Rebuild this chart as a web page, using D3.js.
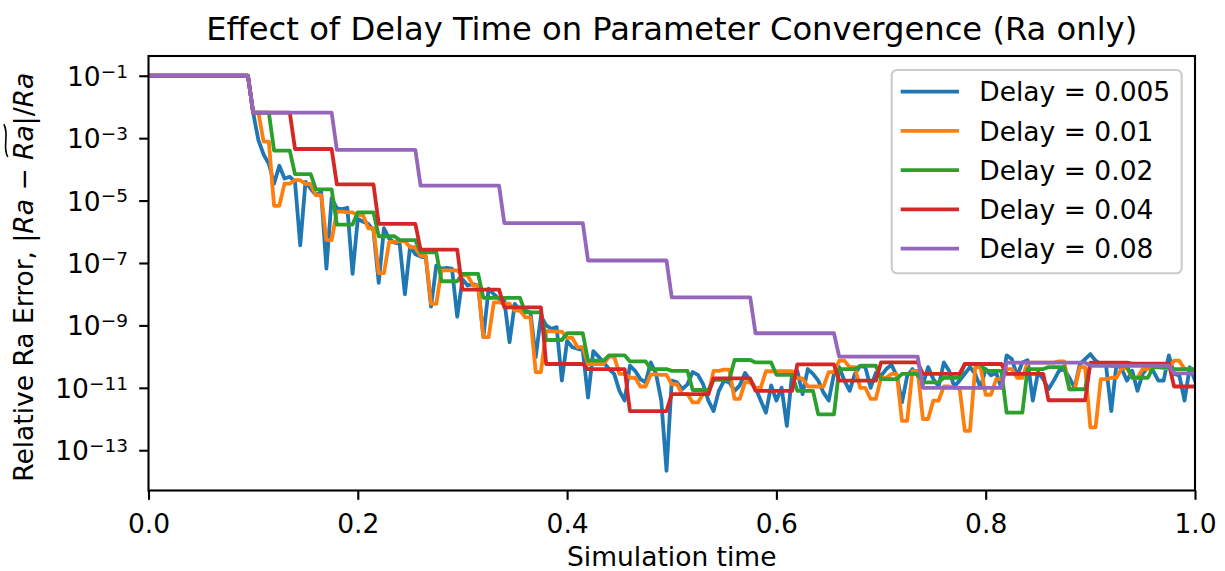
<!DOCTYPE html>
<html>
<head>
<meta charset="utf-8">
<script src="https://cdn.jsdelivr.net/npm/d3@7"></script>
<style>
  html, body { margin: 0; padding: 0; background: #ffffff; }
  svg { display: block; font-family: "DejaVu Sans", sans-serif; }
</style>
</head>
<body>
<svg id="chart" width="1225" height="571"></svg>
<script>
// Relative Ra error recorded every 0.005 time units. Until the first estimate
// at t = 0.1 every run reports the error of the initial guess; afterwards each
// run holds its estimate until the next update, one update per delay interval.
const sampleStep = 0.005;
const firstUpdate = 0.1;
const endTime = 1.0;
const initialError = 0.1;

const delays = [0.005, 0.01, 0.02, 0.04, 0.08];
const seriesColors = ["#1f77b4", "#ff7f0e", "#2ca02c", "#d62728", "#9467bd"];

// one value per update, first update at t = 0.1
const errDelay0005 = [
  6.6e-3, 8.7e-4, 3e-4, 1.5e-4, 3.5e-5, 1.3e-4, 5.1e-5, 5.8e-5, 4e-5, 3.7e-7,
  4e-5, 2.4e-5, 1.5e-5, 1.9e-5, 6.6e-8, 1.2e-5, 5.6e-6, 5.3e-6, 5.9e-6, 4.5e-8,
  2.6e-6, 2.1e-6, 1.8e-6, 1.1e-6, 2.3e-8, 1.3e-6, 6e-7, 4.5e-7, 4.2e-7, 1e-8,
  3.4e-7, 1.9e-7, 1.6e-7, 1.5e-7, 4e-9, 8.3e-8, 6.6e-8, 7e-8, 6.6e-8, 1.9e-9,
  3e-8, 1.9e-8, 2.1e-8, 1.9e-8, 4.2e-10, 1.5e-8, 1e-8, 7.1e-9, 6.3e-9, 2.9e-10,
  4.9e-9, 3e-9, 3e-9, 2.6e-9, 9.6e-11, 2e-9, 1e-9, 7.8e-10, 8.8e-10, 1.7e-11,
  3.2e-10, 2e-10, 1.8e-10, 1.6e-10, 4.9e-12, 1.5e-10, 1e-10, 6.5e-11, 4e-11, 2.8e-11,
  8e-12, 3.9e-12, 5.1e-11, 3.5e-11, 1.9e-11, 1.5e-11, 6.5e-11, 2.8e-11, 3.9e-12, 2.2e-14,
  1.7e-11, 1.5e-11, 9e-12, 1.3e-11, 3.2e-11, 2.6e-11, 1.3e-11, 3.9e-12, 1.8e-12, 8e-12,
  1.7e-11, 1.5e-11, 8e-12, 1.2e-11, 3e-11, 1.7e-11, 1e-11, 3.9e-12, 1.6e-12, 1.2e-11,
  3.9e-12, 1e-11, 6e-13, 2.8e-11, 3.5e-11, 6.3e-12, 4e-11, 2.8e-11, 1.7e-11, 7e-12,
  3.9e-12, 2.8e-11, 4.6e-11, 1.7e-11, 8e-12, 2.8e-11, 5e-11, 4.6e-11, 1e-11, 3e-11,
  2.4e-11, 4e-11, 5.5e-11, 2.4e-11, 3.4e-12, 2.4e-11, 4e-11, 2.4e-11, 1.3e-11, 4.6e-11,
  1.9e-11, 1.1e-11, 6.5e-11, 3.5e-11, 1.1e-11, 1.7e-11, 2.8e-11, 4.6e-11, 2.8e-11, 1e-11,
  4e-11, 2.5e-11, 3e-11, 1e-11, 1.1e-10, 8.3e-11, 2.4e-11, 6.5e-11, 7.7e-11, 3.9e-12,
  3.2e-11, 1.9e-11, 9e-12, 1.7e-11, 3.5e-11, 4e-11, 2.1e-11, 1e-11, 5.8e-11, 8.3e-11,
  1.2e-10, 7.4e-11, 5.8e-11, 5.1e-11, 1.8e-12, 5.8e-11, 4e-11, 1.7e-11, 3.5e-11, 8e-12,
  2.8e-11, 4.6e-11, 3.5e-11, 1.7e-11, 1.7e-11, 1.1e-10, 2.8e-11, 2.5e-11, 3.9e-12, 4.6e-11,
  1.7e-11
];
const errDelay001 = [
  6.6e-3, 7.8e-4, 6.8e-6, 3.5e-5, 4.5e-5, 3.4e-5, 1.5e-5, 5.4e-7, 4.4e-6, 4.2e-6,
  3.4e-6, 1.3e-6, 4.7e-8, 4.7e-7, 5e-7, 3.2e-7, 1.7e-7, 4.9e-9, 5.8e-8, 5.8e-8,
  4e-8, 1.9e-8, 4.2e-10, 5.5e-9, 5e-9, 3e-9, 1.8e-9, 3.2e-11, 6.5e-10, 6.3e-10,
  4e-10, 2e-10, 5.8e-11, 5.8e-11, 1e-10, 2.8e-11, 2.1e-11, 1.1e-11, 2.7e-11, 2.6e-11,
  1.3e-11, 6.3e-12, 3.4e-12, 6.3e-12, 3.5e-11, 3.8e-11, 4.4e-12, 1.5e-11, 1e-11, 3.4e-11,
  3.4e-11, 3.4e-11, 2e-11, 1.1e-11, 1.1e-11, 3.2e-11, 7.4e-11, 4.6e-11, 1e-11, 4.4e-12,
  2.1e-11, 2.8e-11, 8.7e-13, 3.5e-11, 1e-12, 3.9e-12, 1.1e-11, 1e-11, 4.2e-13, 4.6e-11,
  6e-12, 1.9e-11, 4e-11, 2.1e-11, 6.4e-11, 6.4e-11, 6.4e-11, 7e-11, 9e-12, 4.6e-11,
  5.4e-13, 1.9e-11, 2.1e-11, 4.3e-11, 2.1e-11, 4e-11, 4.5e-11, 4.3e-11, 7.4e-11, 4e-11
];
const errDelay002 = [
  6.6e-3, 4e-4, 7e-5, 2.3e-5, 1.7e-6, 4.2e-6, 7.2e-7, 5.4e-7, 2.2e-7, 2.6e-8,
  4.5e-8, 7.6e-9, 7.6e-9, 2.6e-9, 3.4e-10, 5.6e-10, 7.4e-11, 1.1e-10, 7e-11, 4e-11,
  3.5e-11, 8.5e-12, 1.8e-11, 7.8e-11, 6.5e-11, 2.6e-11, 8e-12, 1.4e-12, 4e-11, 5.1e-11,
  1.9e-11, 2.8e-11, 1.5e-11, 2.1e-11, 5.8e-11, 3.5e-11, 1.6e-12, 4e-11, 4.6e-11, 9e-12,
  5.8e-11, 5.1e-11, 2.1e-11, 4.6e-11, 4e-11
];
const errDelay004 = [
  6.6e-3, 4.5e-4, 3.3e-5, 1.8e-6, 2.7e-7, 1.4e-8, 3.8e-9, 5.8e-11, 4e-11, 1.8e-12,
  6.3e-12, 2e-11, 8e-12, 5.6e-11, 1.7e-11, 6.5e-11, 2.8e-11, 5.8e-11, 2.8e-11, 4e-12,
  6.4e-11, 6e-11, 1.1e-11
];
const errDelay008 = [
  6.6e-3, 4.2e-4, 3e-5, 1.9e-6, 1.2e-7, 7.9e-9, 5.6e-10, 1e-10, 1e-11, 6.4e-11,
  5.1e-11, 2.9e-11
];
const seriesValues = [errDelay0005, errDelay001, errDelay002, errDelay004, errDelay008];

const xTicks = [0, 0.2, 0.4, 0.6, 0.8, 1.0];
const yTickExponents = [-1, -3, -5, -7, -9, -11, -13];

const titleText = "Effect of Delay Time on Parameter Convergence (Ra only)";
const xLabelText = "Simulation time";

// ---- layout ----
const W = 1225, H = 571;
const frame = { left: 148.5, right: 1195, top: 56, bottom: 490.5 };
const baseFont = 26.5;
const titleFont = 32.2;
const supFont = 18.5;
const tickLen = 9.3;
const spineWidth = 2.1;
const lineWidth = 3.8;

// sampled signal of one run: initial guess, then each estimate held until the next update
function heldSamples(values, delay) {
  const round = v => Math.round(v * 1e6) / 1e6;
  const pts = [[0, initialError], [round(firstUpdate - sampleStep), initialError]];
  values.forEach((v, k) => {
    const t0 = round(firstUpdate + k * delay);
    const tHold = k === values.length - 1 ? endTime : round(t0 + delay - sampleStep);
    pts.push([t0, v]);
    if (tHold - t0 > 1e-9) pts.push([tHold, v]);
  });
  return pts;
}
const runs = delays.map((d, i) => ({
  delay: d,
  label: `Delay = ${d}`,
  color: seriesColors[i],
  points: heldSamples(seriesValues[i], d)
}));

// ---- scales (log axis padded by 5% of the data span in decades) ----
const allValues = [initialError].concat(...seriesValues);
const logLo = Math.log10(d3.min(allValues));
const logHi = Math.log10(d3.max(allValues));
const logPad = 0.05 * (logHi - logLo);

const x = d3.scaleLinear().domain([0, endTime]).range([frame.left, frame.right]);
const y = d3.scaleLog()
  .domain([Math.pow(10, logLo - logPad), Math.pow(10, logHi + logPad)])
  .range([frame.bottom, frame.top]);

const svg = d3.select("#chart");
svg.append("rect").attr("width", W).attr("height", H).attr("fill", "#ffffff");

svg.append("defs").append("clipPath").attr("id", "plot-clip")
  .append("rect")
  .attr("x", frame.left).attr("y", frame.top)
  .attr("width", frame.right - frame.left).attr("height", frame.bottom - frame.top);

// ---- lines ----
const line = d3.line().x(d => x(d[0])).y(d => y(d[1]));
svg.append("g").attr("clip-path", "url(#plot-clip)")
  .selectAll("path").data(runs).join("path")
  .attr("d", r => line(r.points))
  .attr("fill", "none")
  .attr("stroke", r => r.color)
  .attr("stroke-width", lineWidth)
  .attr("stroke-linejoin", "round")
  .attr("stroke-linecap", "square");

// ---- x axis ----
const xAxis = svg.append("g")
  .attr("transform", `translate(0,${frame.bottom})`)
  .call(d3.axisBottom(x).tickValues(xTicks).tickFormat(d3.format(".1f"))
    .tickSize(tickLen).tickPadding(14.6).tickSizeOuter(0));
xAxis.select(".domain").remove();
xAxis.selectAll(".tick line").attr("stroke", "#000").attr("stroke-width", spineWidth);
xAxis.selectAll(".tick text")
  .attr("font-family", "DejaVu Sans").attr("font-size", baseFont).attr("fill", "#000");

// ---- y axis ----
const yAxis = svg.append("g")
  .attr("transform", `translate(${frame.left},0)`)
  .call(d3.axisLeft(y).tickValues(yTickExponents.map(e => Math.pow(10, e)))
    .tickFormat("").tickSize(tickLen).tickSizeOuter(0));
yAxis.select(".domain").remove();
yAxis.selectAll(".tick line").attr("stroke", "#000").attr("stroke-width", spineWidth);
yAxis.selectAll(".tick text").remove();

const yTickLabels = svg.append("g")
  .attr("font-family", "DejaVu Sans").attr("fill", "#000");
yTickExponents.forEach(e => {
  const t = yTickLabels.append("text")
    .attr("x", frame.left - 20.5)
    .attr("y", y(Math.pow(10, e)) + 10)
    .attr("text-anchor", "end")
    .attr("font-size", baseFont);
  t.append("tspan").text("10");
  t.append("tspan").attr("font-size", supFont).attr("dy", -8.2).text("\u2212" + Math.abs(e));
});

// ---- frame ----
svg.append("rect")
  .attr("x", frame.left).attr("y", frame.top)
  .attr("width", frame.right - frame.left).attr("height", frame.bottom - frame.top)
  .attr("fill", "none").attr("stroke", "#000").attr("stroke-width", spineWidth);

// ---- title and axis labels ----
svg.append("text")
  .attr("x", (frame.left + frame.right) / 2).attr("y", 39.5)
  .attr("text-anchor", "middle").attr("font-size", titleFont).attr("fill", "#000")
  .text(titleText);

svg.append("text")
  .attr("x", (frame.left + frame.right) / 2).attr("y", 566)
  .attr("text-anchor", "middle").attr("font-size", baseFont).attr("fill", "#000")
  .text(xLabelText);

const yLabelGroup = svg.append("g")
  .attr("transform", `translate(33.3,${(frame.top + frame.bottom) / 2 + 4}) rotate(-90)`);
const yLabel = yLabelGroup.append("text")
  .attr("text-anchor", "middle").attr("font-size", baseFont).attr("fill", "#000");
const yLabelParts = [
  { s: "Relative Ra Error, |", italic: false },
  { s: "Ra", italic: true },
  { s: " \u2212 ", italic: false },
  { s: "Ra", italic: true, wide: true },
  { s: "|/", italic: false },
  { s: "Ra", italic: true }
];
let charIndex = 0, tildeStart = 0, tildeEnd = 0;
yLabelParts.forEach(p => {
  yLabel.append("tspan").attr("font-style", p.italic ? "italic" : "normal").text(p.s);
  if (p.wide) { tildeStart = charIndex; tildeEnd = charIndex + p.s.length - 1; }
  charIndex += p.s.length;
});
// wide tilde above the estimated Ra
{
  const node = yLabel.node();
  const x0 = node.getStartPositionOfChar(tildeStart).x + 3;
  const x1 = node.getEndPositionOfChar(tildeEnd).x + 1;
  const w = x1 - x0, ty = -27.5;
  yLabelGroup.append("path")
    .attr("d", `M${x0},${ty + 2} C${x0 + w * 0.3},${ty - 4} ${x0 + w * 0.7},${ty + 4} ${x1},${ty - 2}`)
    .attr("fill", "none").attr("stroke", "#000").attr("stroke-width", 1.6);
}

// ---- legend ----
const legend = svg.append("g");
legend.append("rect")
  .attr("x", 891.7).attr("y", 70).attr("width", 290).attr("height", 203.3)
  .attr("rx", 5.3).attr("ry", 5.3)
  .attr("fill", "#ffffff").attr("fill-opacity", 0.8)
  .attr("stroke", "#cccccc").attr("stroke-width", spineWidth);
const rowStep = 39.25;
const rows = legend.selectAll("g.row").data(runs).join("g")
  .attr("class", "row")
  .attr("transform", (d, i) => `translate(0,${91.7 + i * rowStep})`);
rows.append("line")
  .attr("x1", 900.7).attr("x2", 959).attr("y1", 0).attr("y2", 0)
  .attr("stroke", d => d.color).attr("stroke-width", lineWidth)
  .attr("stroke-linecap", "butt");
rows.append("text")
  .attr("x", 979.3).attr("y", 9.7)
  .attr("font-size", baseFont).attr("fill", "#000")
  .text(d => d.label);
</script>
</body>
</html>
